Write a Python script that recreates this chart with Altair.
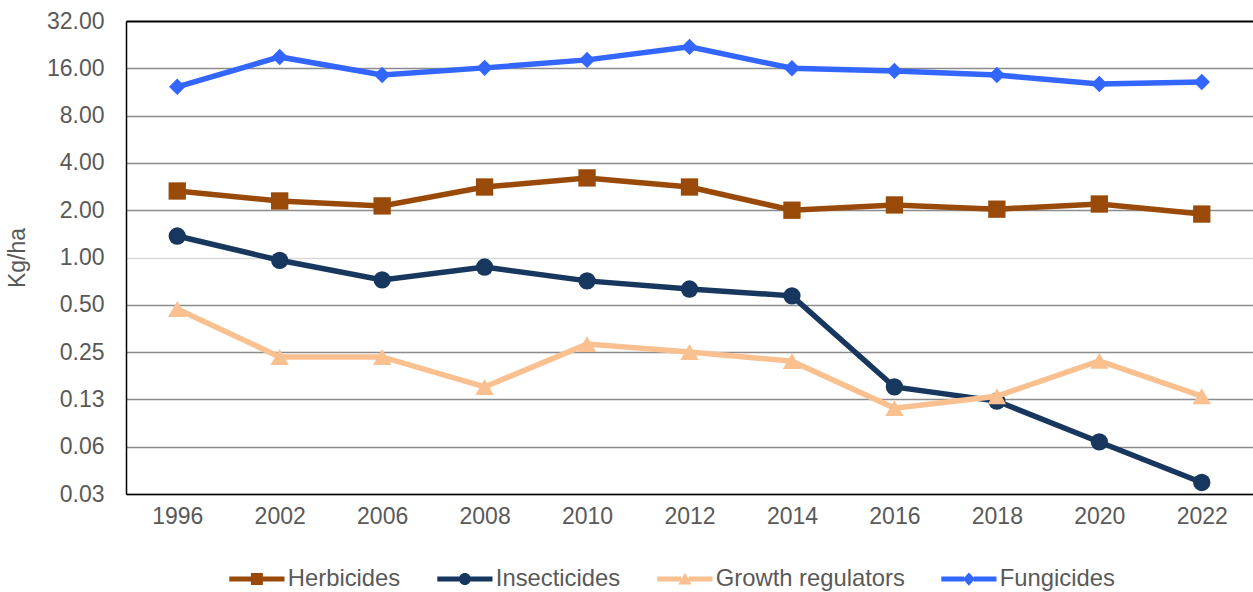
import altair as alt
import pandas as pd

# Pesticide use per hectare, by product group
years = ["1996", "2002", "2006", "2008", "2010", "2012", "2014", "2016", "2018", "2020", "2022"]
series_names = ["Herbicides", "Insecticides", "Growth regulators", "Fungicides"]
herbicides = [2.65, 2.29, 2.13, 2.81, 3.21, 2.81, 2.00, 2.16, 2.03, 2.19, 1.89]
insecticides = [1.37, 0.96, 0.72, 0.87, 0.71, 0.63, 0.57, 0.150, 0.122, 0.067, 0.037]
growth_regulators = [0.47, 0.233, 0.233, 0.150, 0.281, 0.25, 0.219, 0.110, 0.131, 0.22, 0.131]
fungicides = [12.2, 18.9, 14.5, 16.1, 18.1, 21.9, 16.0, 15.4, 14.5, 12.7, 13.1]
y_ticks = [0.03125, 0.0625, 0.125, 0.25, 0.5, 1, 2, 4, 8, 16, 32]

colors = ["#9A4A08", "#17375E", "#FAC090", "#3366FF"]
shapes = ["square", "circle", "triangle-up", "diamond"]
sizes = [300, 300, 340, 270]

# Legend glyphs: a short line with the marker in the middle
legend_paths = [
    "M-4.6,-0.42H-1V0.42H-4.6Z M1,-0.42H4.6V0.42H1Z M-1,-1H1V1H-1Z",
    "M-4.6,-0.42H-0.9V0.42H-4.6Z M0.9,-0.42H4.6V0.42H0.9Z M1,0A1,1,0,1,1,-1,0A1,1,0,1,1,1,0Z",
    "M-4.6,-0.42H-0.6V0.42H-4.6Z M0.6,-0.42H4.6V0.42H0.6Z M0,-1.05L1.1,0.9H-1.1Z",
    "M-4.6,-0.42H-0.8V0.42H-4.6Z M0.8,-0.42H4.6V0.42H0.8Z M0,-1.1L1,0L0,1.1L-1,0Z",
]

rows = []
for name, vals in zip(series_names, [herbicides, insecticides, growth_regulators, fungicides]):
    for yr, v in zip(years, vals):
        rows.append({"Year": yr, "Series": name, "Value": v})
df = pd.DataFrame(rows)

FONT = "Liberation Sans"
TEXT = "#595959"
FS = 23

x_enc = alt.X(
    "Year:O",
    sort=years,
    scale=alt.Scale(type="point", padding=0.5),
    axis=alt.Axis(
        title=None, labelAngle=0, labelFont=FONT, labelFontSize=FS, labelColor=TEXT,
        ticks=False, labelPadding=11, domainColor="#000000", domainWidth=1.5, grid=False,
    ),
)
y_enc = alt.Y(
    "Value:Q",
    scale=alt.Scale(type="log", base=2, domain=[0.03125, 32]),
    axis=alt.Axis(
        title="Kg/ha", titleFont=FONT, titleFontSize=FS, titleColor=TEXT, titleFontWeight="normal",
        titlePadding=17,
        values=y_ticks, format=".2f", labelFont=FONT, labelFontSize=FS, labelColor=TEXT,
        ticks=False, labelPadding=22, domainColor="#000000", domainWidth=1.5,
        grid=True,
        gridColor={"condition": [{"test": "datum.value === 32", "value": "#000000"},
                                 {"test": "datum.value === 1", "value": "#D9D9D9"}],
                   "value": "#8C8C8C"},
        gridWidth={"condition": {"test": "datum.value === 32", "value": 2}, "value": 1.5},
    ),
)

layers = []
for i, name in enumerate(series_names):
    base = alt.Chart(df).transform_filter(alt.datum.Series == name)
    line = base.mark_line(strokeWidth=5.5, color=colors[i]).encode(x=x_enc, y=y_enc)
    pts = base.mark_point(
        filled=True, opacity=1, shape=shapes[i], size=sizes[i], color=colors[i]
    ).encode(x=x_enc, y=y_enc)
    layers += [line, pts]

# Legend-only layer: no rows survive the filter, the scales carry the entries
leg = dict(
    title=None, orient="none", direction="horizontal", legendX=119, legendY=546,
    labelFont=FONT, labelFontSize=23.8, labelColor=TEXT, symbolSize=144, labelLimit=400,
    labelOffset=19, columnPadding=36, padding=0, symbolOpacity=1, symbolStrokeWidth=0,
)
legend_layer = alt.Chart(df).transform_filter("datum.Value < 0").mark_point(
    filled=True, opacity=1
).encode(
    x=x_enc, y=y_enc,
    color=alt.Color("Series:N", scale=alt.Scale(domain=series_names, range=colors),
                    sort=series_names, legend=alt.Legend(**leg)),
    shape=alt.Shape("Series:N", scale=alt.Scale(domain=series_names, range=legend_paths),
                    sort=series_names, legend=alt.Legend(**leg)),
)

chart = alt.layer(*layers, legend_layer).properties(
    width=1127, height=473,
    padding={"left": 126, "top": 21, "right": 0, "bottom": 98},
    autosize=alt.AutoSizeParams(type="none"),
    background="white",
).configure_view(stroke=None)

chart.save("out.html", embed_options={"renderer": "svg", "actions": False})
